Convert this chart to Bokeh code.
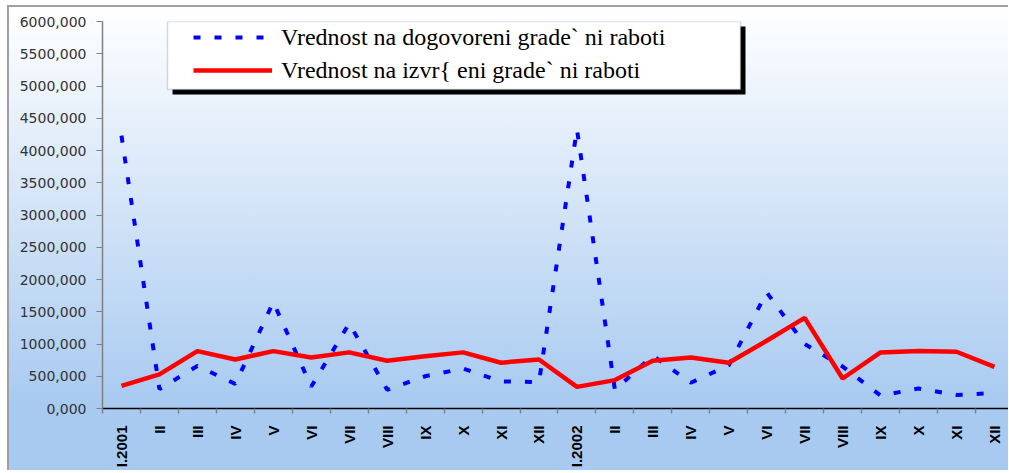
import math
from bokeh.plotting import figure
from bokeh.models import (Range1d, FixedTicker, Legend, LegendItem, BoxAnnotation,
                          ColumnDataSource, CustomJSTickFormatter)
from bokeh.embed import file_html
from bokeh.resources import INLINE

months = ["I.2001", "II", "III", "IV", "V", "VI", "VII", "VIII", "IX", "X", "XI", "XII",
          "I.2002", "II", "III", "IV", "V", "VI", "VII", "VIII", "IX", "X", "XI", "XII"]
dogovoreni = [4230, 300, 660, 380, 1650, 340, 1320, 290, 500, 620, 420, 410,
              4330, 290, 820, 400, 670, 1800, 1000, 650, 200, 310, 210, 240]
izvrseni = [350, 530, 890, 760, 890, 790, 870, 740, 810, 870, 710, 760,
            335, 440, 740, 790, 710, 1050, 1405, 465, 870, 890, 880, 645]
y_ticks = list(range(0, 6001, 500))
series_names = ["Vrednost na dogovoreni grade` ni raboti",
                "Vrednost na izvr{ eni grade` ni raboti"]

pos = [i + 0.5 for i in range(len(months))]
src = ColumnDataSource(dict(x=pos, dog=dogovoreni, izv=izvrseni))

p = figure(width=1001, height=465, output_backend="svg", toolbar_location=None,
           x_range=Range1d(0, 23.87), y_range=Range1d(0, 6000),
           min_border_left=95, min_border_right=0, min_border_top=16, min_border_bottom=62,
           background_fill_color=None, border_fill_color=None, outline_line_color=None)
p.styles = {"margin-left": "7px", "margin-top": "5px",
            "background": "linear-gradient(to bottom, #ffffff 0px, #a8caf0 400px, #a8caf0 100%)",
            "box-shadow": "inset 2px 2px 0 0 #a0a0a0"}
p.grid.visible = False

# y axis
p.yaxis.ticker = FixedTicker(ticks=y_ticks)
p.yaxis.formatter = CustomJSTickFormatter(code="return tick.toFixed(0) + ',000';")
p.yaxis.axis_line_color = "#808080"
p.yaxis.axis_line_width = 1.5
p.yaxis.major_tick_line_color = "#808080"
p.yaxis.major_tick_out = 6
p.yaxis.major_tick_in = 0
p.yaxis.minor_tick_line_color = None
p.yaxis.major_label_text_font = "DejaVu Sans"
p.yaxis.major_label_text_font_size = "14px"
p.yaxis.major_label_text_color = "#333333"
p.yaxis.major_label_standoff = 10

# x axis
p.xaxis.ticker = FixedTicker(ticks=pos, minor_ticks=list(range(0, len(months) + 1)))
p.xaxis.formatter = CustomJSTickFormatter(args=dict(labels=months),
                                          code="return labels[Math.floor(tick)];")
p.xaxis.axis_line_color = "black"
p.xaxis.axis_line_width = 1.5
p.xaxis.major_tick_out = 0
p.xaxis.major_tick_in = 0
p.xaxis.minor_tick_out = 5
p.xaxis.minor_tick_in = 0
p.xaxis.minor_tick_line_color = "#808080"
p.xaxis.minor_tick_line_width = 1.5
p.xaxis.major_label_orientation = math.pi / 2
p.xaxis.major_label_text_font = "Liberation Sans"
p.xaxis.major_label_text_font_style = "bold"
p.xaxis.major_label_text_font_size = "15px"
p.xaxis.major_label_text_color = "black"
p.xaxis.major_label_standoff = 12

r1 = p.line("x", "dog", source=src, line_color="#0000ff", line_width=4, line_dash="7 14")
r2 = p.line("x", "izv", source=src, line_color="#ff0000", line_width=4.5)

shadow = BoxAnnotation(left=70, right=643, top=382, bottom=314,
                       left_units="screen", right_units="screen",
                       top_units="screen", bottom_units="screen",
                       fill_color="black", fill_alpha=1, line_color=None)
box = BoxAnnotation(left=65, right=638, top=387, bottom=319,
                    left_units="screen", right_units="screen",
                    top_units="screen", bottom_units="screen",
                    fill_color="white", fill_alpha=1, line_color="#808080", line_width=1.5)
p.add_layout(shadow)
p.add_layout(box)

legend = Legend(items=[LegendItem(label=series_names[0], renderers=[r1]),
                       LegendItem(label=series_names[1], renderers=[r2])],
                location=(91, 323), padding=0, spacing=3,
                glyph_width=79, glyph_height=30, label_height=30, label_standoff=9,
                label_text_font="Liberation Serif", label_text_font_size="24px",
                label_text_color="black", border_line_color=None,
                background_fill_alpha=0)
p.add_layout(legend, "center")

open("out.html", "w").write(file_html(p, INLINE))
